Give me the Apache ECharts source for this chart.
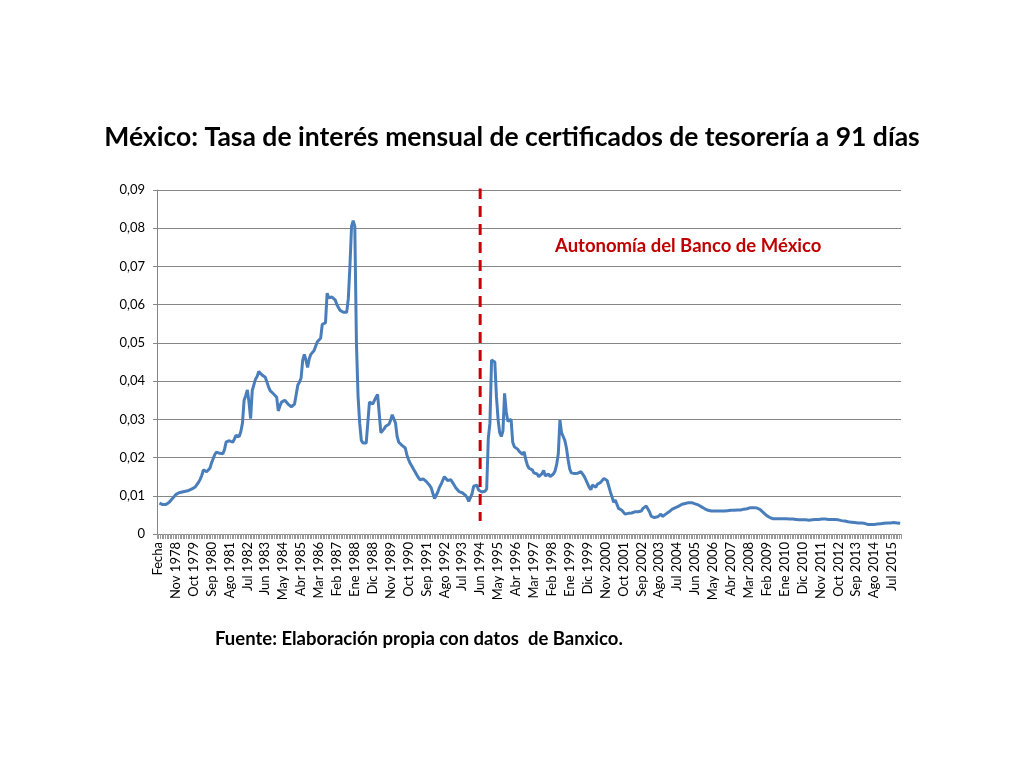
<!DOCTYPE html>
<html lang="es">
<head>
    <meta charset="UTF-8">
    <title>Tasa de interés CETES 91 días</title>
    <script src="https://cdn.jsdelivr.net/npm/echarts@6/dist/echarts.min.js"></script>
    <style>
        html, body { margin: 0; padding: 0; background: #fff; }
        #main { width: 1024px; height: 768px; }
    </style>
</head>
<body>
<div id="main"></div>
<script>
    // meses en español, etiquetas tipo "Ene 1988"
    var meses = ['Ene', 'Feb', 'Mar', 'Abr', 'May', 'Jun', 'Jul', 'Ago', 'Sep', 'Oct', 'Nov', 'Dic'];
    var anioInicio = 1978;
    var yTicks = [0, 0.01, 0.02, 0.03, 0.04, 0.05, 0.06, 0.07, 0.08, 0.09];
    // línea vertical discontinua: fecha y extremos en valor de la tasa
    var fechaAutonomia = 'Jun 1994';
    var autonomiaDesdeHasta = [0.0905, 0.0034];

    // tasa mensual, enero a diciembre de cada año
    var t1978 = [0.0081, 0.0079, 0.0077, 0.0077, 0.0077, 0.0079, 0.0083, 0.0088, 0.0093, 0.0098, 0.0103, 0.0106];
    var t1979 = [0.0108, 0.0109, 0.0110, 0.0111, 0.0112, 0.0113, 0.0114, 0.0116, 0.0118, 0.0120, 0.0123, 0.0129];
    var t1980 = [0.0135, 0.0143, 0.0153, 0.0168, 0.0171, 0.0163, 0.0160, 0.0172, 0.0186, 0.0197, 0.0208, 0.0214];
    var t1981 = [0.0213, 0.0211, 0.0209, 0.0210, 0.0222, 0.0241, 0.0246, 0.0244, 0.0242, 0.0240, 0.0248, 0.0258];
    var t1982 = [0.0260, 0.0255, 0.0268, 0.0290, 0.0350, 0.0362, 0.0377, 0.0345, 0.0302, 0.0375, 0.0390, 0.0405];
    var t1983 = [0.0412, 0.0425, 0.0420, 0.0416, 0.0413, 0.0410, 0.0398, 0.0385, 0.0375, 0.0370, 0.0367, 0.0365];
    var t1984 = [0.0358, 0.0322, 0.0335, 0.0345, 0.0350, 0.0350, 0.0348, 0.0340, 0.0335, 0.0333, 0.0335, 0.0340];
    var t1985 = [0.0345, 0.0390, 0.0397, 0.0408, 0.0455, 0.0470, 0.0455, 0.0436, 0.0458, 0.0470, 0.0475, 0.0480];
    var t1986 = [0.0492, 0.0503, 0.0508, 0.0512, 0.0548, 0.0552, 0.0553, 0.0630, 0.0618, 0.0615, 0.0620, 0.0620];
    var t1987 = [0.0612, 0.0600, 0.0595, 0.0585, 0.0583, 0.0580, 0.0578, 0.0580, 0.0615, 0.0700, 0.0805, 0.0820];
    var t1988 = [0.0805, 0.0500, 0.0360, 0.0290, 0.0245, 0.0238, 0.0238, 0.0238, 0.0240, 0.0345, 0.0350, 0.0340];
    var t1989 = [0.0345, 0.0358, 0.0365, 0.0370, 0.0265, 0.0260, 0.0275, 0.0282, 0.0284, 0.0287, 0.0298, 0.0312];
    var t1990 = [0.0313, 0.0290, 0.0255, 0.0240, 0.0235, 0.0232, 0.0230, 0.0225, 0.0207, 0.0195, 0.0185, 0.0178];
    var t1991 = [0.0170, 0.0163, 0.0155, 0.0148, 0.0142, 0.0142, 0.0144, 0.0140, 0.0137, 0.0132, 0.0127, 0.0120];
    var t1992 = [0.0105, 0.0093, 0.0095, 0.0110, 0.0122, 0.0130, 0.0140, 0.0150, 0.0145, 0.0140, 0.0143, 0.0142];
    var t1993 = [0.0135, 0.0128, 0.0121, 0.0116, 0.0111, 0.0109, 0.0108, 0.0108, 0.0101, 0.0095, 0.0085, 0.0082];
    var t1994 = [0.0105, 0.0125, 0.0130, 0.0128, 0.0115, 0.0110, 0.0110, 0.0110, 0.0112, 0.0118, 0.0250, 0.0290];
    var t1995 = [0.0455, 0.0460, 0.0450, 0.0360, 0.0300, 0.0265, 0.0255, 0.0270, 0.0368, 0.0320, 0.0295, 0.0290];
    var t1996 = [0.0300, 0.0240, 0.0228, 0.0225, 0.0222, 0.0216, 0.0212, 0.0208, 0.0215, 0.0195, 0.0180, 0.0172];
    var t1997 = [0.0172, 0.0168, 0.0160, 0.0155, 0.0157, 0.0150, 0.0153, 0.0158, 0.0166, 0.0152, 0.0155, 0.0157];
    var t1998 = [0.0150, 0.0152, 0.0157, 0.0165, 0.0182, 0.0210, 0.0298, 0.0265, 0.0255, 0.0245, 0.0225, 0.0195];
    var t1999 = [0.0170, 0.0160, 0.0160, 0.0158, 0.0160, 0.0159, 0.0160, 0.0163, 0.0162, 0.0150, 0.0141, 0.0137];
    var t2000 = [0.0122, 0.0116, 0.0128, 0.0124, 0.0122, 0.0130, 0.0133, 0.0135, 0.0138, 0.0145, 0.0143, 0.0140];
    var t2001 = [0.0125, 0.0110, 0.0097, 0.0083, 0.0089, 0.0078, 0.0067, 0.0065, 0.0062, 0.0058, 0.0052, 0.0053];
    var t2002 = [0.0054, 0.0058, 0.0055, 0.0054, 0.0058, 0.0062, 0.0058, 0.0062, 0.0060, 0.0067, 0.0068, 0.0073];
    var t2003 = [0.0072, 0.0058, 0.0047, 0.0045, 0.0043, 0.0043, 0.0045, 0.0047, 0.0052, 0.0046, 0.0048, 0.0052];
    var t2004 = [0.0054, 0.0058, 0.0062, 0.0065, 0.0067, 0.0069, 0.0071, 0.0073, 0.0075, 0.0078, 0.0079, 0.0080];
    var t2005 = [0.0081, 0.0082, 0.0082, 0.0082, 0.0081, 0.0079, 0.0078, 0.0076, 0.0073, 0.0071, 0.0068, 0.0066];
    var t2006 = [0.0064, 0.0062, 0.0060, 0.0060, 0.0060, 0.0060, 0.0060, 0.0060, 0.0060, 0.0060, 0.0060, 0.0060];
    var t2007 = [0.0060, 0.0061, 0.0062, 0.0062, 0.0062, 0.0062, 0.0063, 0.0063, 0.0063, 0.0063, 0.0064, 0.0065];
    var t2008 = [0.0066, 0.0066, 0.0068, 0.0069, 0.0069, 0.0069, 0.0069, 0.0068, 0.0066, 0.0064, 0.0060, 0.0056];
    var t2009 = [0.0052, 0.0048, 0.0046, 0.0043, 0.0041, 0.0040, 0.0040, 0.0040, 0.0040, 0.0040, 0.0040, 0.0040];
    var t2010 = [0.0040, 0.0040, 0.0039, 0.0039, 0.0039, 0.0039, 0.0038, 0.0038, 0.0038, 0.0037, 0.0037, 0.0037];
    var t2011 = [0.0037, 0.0037, 0.0037, 0.0036, 0.0036, 0.0037, 0.0037, 0.0038, 0.0038, 0.0038, 0.0039, 0.0039];
    var t2012 = [0.0039, 0.0039, 0.0039, 0.0038, 0.0039, 0.0038, 0.0038, 0.0038, 0.0038, 0.0037, 0.0036, 0.0035];
    var t2013 = [0.0034, 0.0034, 0.0033, 0.0032, 0.0032, 0.0031, 0.0031, 0.0030, 0.0030, 0.0029, 0.0029, 0.0029];
    var t2014 = [0.0029, 0.0028, 0.0026, 0.0025, 0.0025, 0.0025, 0.0025, 0.0025, 0.0025, 0.0026, 0.0026, 0.0027];
    var t2015 = [0.0028, 0.0028, 0.0028, 0.0029, 0.0029, 0.0029, 0.0030, 0.0030, 0.0030, 0.0029, 0.0028, 0.0028];

    var porAnio = [t1978, t1979, t1980, t1981, t1982, t1983, t1984, t1985, t1986, t1987,
        t1988, t1989, t1990, t1991, t1992, t1993, t1994, t1995, t1996, t1997,
        t1998, t1999, t2000, t2001, t2002, t2003, t2004, t2005, t2006, t2007,
        t2008, t2009, t2010, t2011, t2012, t2013, t2014, t2015];

    // la primera fila de la hoja es el encabezado "Fecha", sin valor
    var fechas = ['Fecha'];
    var tasas = [null];
    porAnio.forEach(function (fila, k) {
        fila.forEach(function (v, m) {
            fechas.push(meses[m] + ' ' + (anioInicio + k));
            tasas.push(v);
        });
    });
    var idxAutonomia = fechas.indexOf(fechaAutonomia);

    var fuente = 'Lato';
    var myChart = echarts.init(document.getElementById('main'));
    var option = {
        backgroundColor: '#fff',
        animation: false,
        title: {
            text: 'México: Tasa de interés mensual de certificados de tesorería a 91 días',
            left: 'center',
            top: 119,
            textStyle: { fontFamily: fuente, fontWeight: 'bold', fontSize: 26.5, color: '#000' }
        },
        grid: { left: 157, right: 123, top: 190, bottom: 234, containLabel: false },
        xAxis: {
            type: 'category',
            data: fechas,
            boundaryGap: true,
            axisLine: { lineStyle: { color: '#868686', width: 1 } },
            axisTick: { show: true, interval: 0, length: 5, lineStyle: { color: '#9a9a9a' } },
            axisLabel: {
                interval: 10,
                rotate: 90,
                margin: 8,
                fontFamily: fuente,
                fontSize: 13,
                color: '#000'
            },
            splitLine: { show: false }
        },
        yAxis: {
            type: 'value',
            min: 0,
            max: yTicks[yTicks.length - 1],
            interval: 0.01,
            axisLine: { show: true, lineStyle: { color: '#868686' } },
            axisTick: { show: true, length: 4, lineStyle: { color: '#868686' } },
            axisLabel: {
                margin: 12,
                fontFamily: fuente,
                fontSize: 13,
                color: '#000',
                formatter: function (v) {
                    return v === 0 ? '0' : v.toFixed(2).replace('.', ',');
                }
            },
            splitLine: { lineStyle: { color: '#868686', width: 1 } }
        },
        series: [
            {
                name: 'Tasa',
                type: 'line',
                data: tasas,
                showSymbol: false,
                z: 2,
                lineStyle: { color: '#4a7ebb', width: 3 },
                itemStyle: { color: '#4a7ebb' }
            },
            {
                name: 'Autonomía',
                type: 'line',
                data: [
                    [idxAutonomia, autonomiaDesdeHasta[0]],
                    [idxAutonomia, autonomiaDesdeHasta[1]]
                ],
                showSymbol: false,
                silent: true,
                z: 3,
                lineStyle: { color: '#c8000a', width: 3, type: [11, 7] },
                itemStyle: { color: '#c8000a' }
            }
        ],
        graphic: [
            {
                type: 'text',
                left: 555,
                top: 237,
                style: {
                    text: 'Autonomía del Banco de México',
                    fill: '#c00000',
                    font: 'bold 18.5px Lato'
                }
            },
            {
                type: 'text',
                left: 215,
                top: 630,
                style: {
                    text: 'Fuente: Elaboración propia con datos  de Banxico.',
                    fill: '#000',
                    font: 'bold 18.5px Lato'
                }
            }
        ]
    };
    myChart.setOption(option);
</script>
</body>
</html>
